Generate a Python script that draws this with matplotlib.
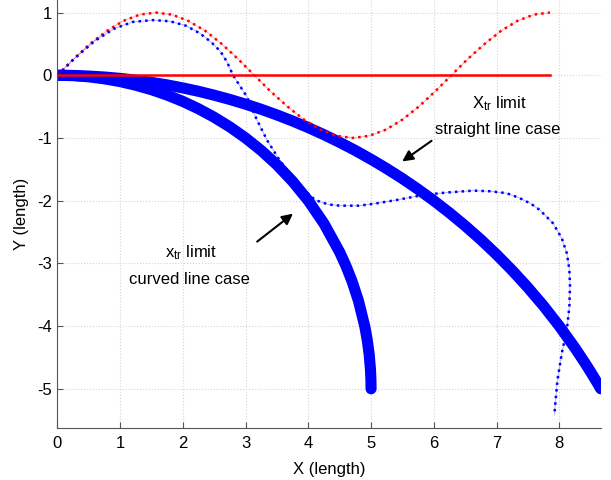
import matplotlib

matplotlib.use('Agg')

import matplotlib.pyplot as plt

plt.rcParams['font.family'] = ['Liberation Sans', 'DejaVu Sans']
plt.rcParams['mathtext.fontset'] = 'custom'
plt.rcParams['mathtext.rm'] = 'Liberation Sans'
plt.rcParams['mathtext.it'] = 'Liberation Sans'
plt.rcParams['font.size'] = 12
plt.rcParams['axes.unicode_minus'] = False

# limit curve for the curved line case
curved_x = [0, 0.25, 0.5, 0.75, 1, 1.25, 1.5, 1.75, 2, 2.25, 2.5, 2.75, 3,
            3.25, 3.5, 3.75, 4, 4.25, 4.5, 4.6, 4.7, 4.8, 4.9, 4.94, 4.97,
            4.99, 4.998, 5.0]
curved_y = [0, -0.006, -0.025, -0.057, -0.101, -0.159, -0.230, -0.316, -0.417,
            -0.535, -0.670, -0.824, -1.0, -1.200, -1.429, -1.693, -2.0,
            -2.366, -2.821, -3.040, -3.294, -3.600, -4.005, -4.228, -4.453,
            -4.684, -4.859, -5.0]

# limit curve for the straight line case
straight_x = [0, 0.25, 0.5, 0.75, 1, 1.25, 1.5, 1.75, 2, 2.25, 2.5, 2.75, 3,
              3.25, 3.5, 3.75, 4, 4.25, 4.5, 4.75, 5, 5.25, 5.5, 5.75, 6,
              6.25, 6.5, 6.75, 7, 7.25, 7.5, 7.75, 8, 8.25, 8.4, 8.5, 8.6,
              8.66]
straight_y = [0, -0.003, -0.013, -0.028, -0.050, -0.078, -0.113, -0.154,
              -0.202, -0.256, -0.318, -0.386, -0.461, -0.543, -0.633, -0.730,
              -0.835, -0.948, -1.070, -1.200, -1.340, -1.489, -1.648, -1.819,
              -2.0, -2.194, -2.401, -2.622, -2.859, -3.113, -3.386, -3.680,
              -4.0, -4.349, -4.574, -4.732, -4.897, -5.0]

# reference path (red) and straight line
ref_x = [0, 0.26, 0.52, 0.79, 1.05, 1.31, 1.57, 1.83, 2.09, 2.36, 2.62, 2.88,
         3.14, 3.40, 3.67, 3.93, 4.19, 4.45, 4.71, 4.97, 5.24, 5.50, 5.76,
         6.02, 6.28, 6.54, 6.81, 7.07, 7.33, 7.59, 7.85]
ref_y = [0, 0.259, 0.5, 0.707, 0.866, 0.966, 1.0, 0.966, 0.866, 0.707, 0.5,
         0.259, 0, -0.259, -0.5, -0.707, -0.866, -0.966, -1.0, -0.966, -0.866,
         -0.707, -0.5, -0.259, 0, 0.259, 0.5, 0.707, 0.866, 0.966, 1.0]
line_x = [0, 7.85]
line_y = [0, 0]

# tracked path (blue dotted)
track_x = [0, 0.3, 0.6, 0.9, 1.2, 1.53, 1.8, 2.05, 2.27, 2.45, 2.6, 2.7, 2.8,
           3.02, 3.18, 3.34, 3.52, 3.7, 3.9, 4.11, 4.32, 4.5, 4.8, 5.04, 5.4,
           5.83, 6.2, 6.63, 6.9, 7.16, 7.37, 7.55, 7.69, 7.9, 8.04, 8.12, 8.16,
           8.17, 8.16, 8.12, 8.04, 7.97, 7.92]
track_y = [0, 0.29, 0.55, 0.74, 0.85, 0.88, 0.86, 0.79, 0.67, 0.53, 0.38,
           0.22, 0.0, -0.34, -0.71, -1.03, -1.32, -1.57, -1.80, -1.99, -2.06,
           -2.08, -2.08, -2.05, -1.99, -1.91, -1.87, -1.84, -1.85, -1.88,
           -1.96, -2.05, -2.15, -2.36, -2.60, -2.84, -3.10, -3.35, -3.69,
           -4.06, -4.43, -4.86, -5.42]

fig = plt.figure(figsize=(6.11, 4.80), dpi=100)
ax = fig.add_axes([0.0938, 0.1083, 0.8894, 0.8917])

ax.plot(curved_x, curved_y, color='#0000ff', lw=8, solid_capstyle='round',
        solid_joinstyle='round', zorder=2)
ax.plot(straight_x, straight_y, color='#0000ff', lw=8, solid_capstyle='round',
        solid_joinstyle='round', zorder=2)

ax.plot(ref_x, ref_y, color='#ff0000', lw=0.6, alpha=0.35, zorder=3)
ax.plot(ref_x, ref_y, color='#ff0000', lw=1.8, linestyle=':', zorder=3)
ax.plot(track_x, track_y, color='#0000ff', lw=0.6, alpha=0.35, zorder=3)
ax.plot(track_x, track_y, color='#0000ff', lw=1.8, linestyle=':', zorder=3)
ax.plot(line_x, line_y, color='#ff0000', lw=1.8, zorder=4)

ax.annotate('', xy=(5.46, -1.40), xytext=(6.0, -1.02),
            arrowprops=dict(arrowstyle='-|>', color='black', lw=1.5,
                            mutation_scale=16))
ax.annotate('', xy=(3.79, -2.18), xytext=(3.15, -2.68),
            arrowprops=dict(arrowstyle='-|>', color='black', lw=1.5,
                            mutation_scale=16))
ax.text(7.04, -0.45, r'X$_{\mathrm{tr}}$ limit', ha='center', va='center')
ax.text(7.02, -0.86, 'straight line case', ha='center', va='center')
ax.text(2.13, -2.83, r'x$_{\mathrm{tr}}$ limit', ha='center', va='center')
ax.text(2.11, -3.25, 'curved line case', ha='center', va='center')

ax.set_xlim(0, 8.66)
ax.set_ylim(-5.625, 1.2)
ax.set_xticks(range(0, 9))
ax.set_yticks(range(-5, 2))
ax.set_xlabel('X (length)', labelpad=8)
ax.set_ylabel('Y (length)', labelpad=6)

ax.grid(True, color='#d4d4d4', linestyle=':', lw=0.8)
ax.set_axisbelow(True)
for side in ('top', 'right'):
    ax.spines[side].set_visible(False)
for side in ('left', 'bottom'):
    ax.spines[side].set_color('#555555')
ax.tick_params(direction='in', length=4, color='#555555', labelcolor='black')
ax.tick_params(axis='x', pad=6)
ax.tick_params(axis='y', pad=4)

fig.savefig('out.png', dpi=100)
